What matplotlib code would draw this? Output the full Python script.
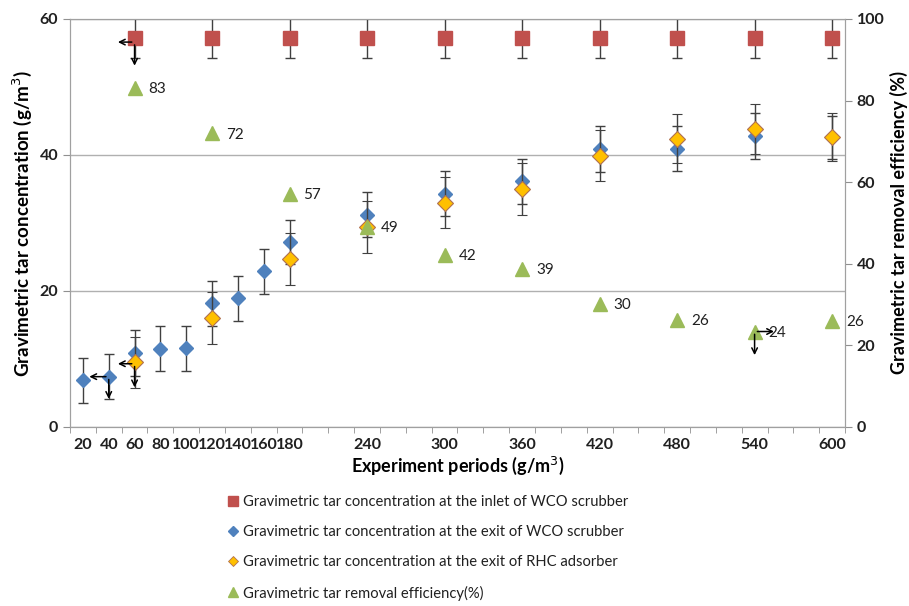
import numpy as np
import matplotlib
matplotlib.use("Agg")
import matplotlib.pyplot as plt
from matplotlib.lines import Line2D
from matplotlib.transforms import ScaledTranslation

plt.rcParams['font.family'] = ['Lato', 'DejaVu Sans']

# experiment periods
x_all = [20, 40, 60, 80, 100, 120, 140, 160, 180, 240, 300, 360, 420, 480, 540, 600]
x_main = [60, 120, 180, 240, 300, 360, 420, 480, 540, 600]

# inlet of WCO scrubber
inlet = [57.2] * 10
inlet_err = [2.9] * 10

# exit of WCO scrubber
wco_exit = [6.9, 7.4, 10.9, 11.5, 11.6, 18.2, 18.9, 22.9, 27.2, 31.2, 34.3, 36.1, 40.9, 40.9, 42.8, 42.6]
wco_err = [3.3, 3.3, 3.4, 3.3, 3.3, 3.3, 3.3, 3.3, 3.3, 3.3, 3.3, 3.3, 3.4, 3.3, 3.4, 3.2]

# exit of RHC adsorber
rhc_exit = [9.5, 16.0, 24.7, 29.4, 33.0, 35.0, 39.9, 42.4, 43.8, 42.6]
rhc_err = [3.8, 3.8, 3.8, 3.8, 3.8, 3.8, 3.7, 3.6, 3.7, 3.5]

# removal efficiency (%)
eff = [83, 72, 57, 49, 42, 39, 30, 26, 24, 26]
eff_y = [83.1, 72.0, 57.2, 49.0, 42.2, 38.8, 30.2, 26.2, 23.4, 26.0]

xtick_vals = [20, 40, 60, 80, 100, 120, 140, 160, 180, 240, 300, 360, 420, 480, 540, 600]

labels = ['Gravimetric tar concentration at the inlet of WCO scrubber',
          'Gravimetric tar concentration at the exit of WCO scrubber',
          'Gravimetric tar concentration at the exit of RHC adsorber',
          'Gravimetric tar removal efficiency(%)']

fig = plt.figure(figsize=(9.09, 6.06), dpi=100)
ax = fig.add_axes([0.077, 0.2954, 0.8526, 0.6733])
ax2 = ax.twinx()

ebar = dict(ecolor='#404040', elinewidth=1.0, capsize=3.5, capthick=1.0, linestyle='none')

ax.errorbar(x_main, inlet, yerr=inlet_err, fmt='s', color='#C0504D', markersize=10, zorder=3, **ebar)
ax.errorbar(x_all, wco_exit, yerr=wco_err, fmt='D', color='#4F81BD', markersize=7, zorder=3, **ebar)
ax.errorbar(x_main, rhc_exit, yerr=rhc_err, fmt='D', color='#FFC000', markeredgecolor='#B07050',
            markeredgewidth=0.8, markersize=8, zorder=4, **ebar)
ax2.plot(x_main, eff_y, '^', color='#9BBB59', markersize=10, linestyle='none', zorder=3)
for xv, yv, lab in zip(x_main, eff_y, eff):
    ax2.annotate(str(lab), (xv, yv), xytext=(10, -1), textcoords='offset points',
                 ha='left', va='center', fontsize=11, color='#202020')

ax.set_xlim(10, 610)
ax.set_ylim(0, 60)
ax2.set_ylim(0, 100)
ax.set_yticks([0, 20, 40, 60])
ax2.set_yticks([0, 20, 40, 60, 80, 100])
ax.set_xticks(xtick_vals)
ax.set_xticklabels([str(v) for v in xtick_vals])
ax.set_xticks(np.arange(10, 611, 20), minor=True)
ax.tick_params(axis='x', which='major', length=0, pad=8)
ax.tick_params(axis='x', which='minor', length=4, color='#909090', direction='out')
ax.tick_params(axis='y', length=5, color='#909090', direction='out')
ax2.tick_params(axis='y', length=5, color='#909090', direction='out')
for a in (ax, ax2):
    for lab in a.get_xticklabels() + a.get_yticklabels():
        lab.set_fontsize(11.5)
        lab.set_fontweight('bold')
        lab.set_color('#202020')
    for s in a.spines.values():
        s.set_color('#A0A0A0')
ax.yaxis.grid(True, color='#B0B0B0', linewidth=1.0)
ax.set_axisbelow(True)

ax.set_xlabel('Experiment periods (g/m$^3$)', fontsize=13, fontweight='bold', labelpad=2)
ax.set_ylabel('Gravimetric tar concentration (g/m$^3$)', fontsize=13.5, fontweight='bold', labelpad=4)
ax2.set_ylabel('Gravimetric tar removal efficiency (%)', fontsize=13, fontweight='bold', labelpad=4)

# stray arrows copied from the original figure
def stray_arrow(a, xv, yv, dx, dy):
    off = a.transData + ScaledTranslation(dx / 72.0, dy / 72.0, fig.dpi_scale_trans)
    a.annotate('', xy=(xv, yv), xycoords=off, xytext=(xv, yv), textcoords='data',
               arrowprops=dict(arrowstyle='->', color='black', lw=1.1, shrinkA=2, shrinkB=0),
               zorder=5)

stray_arrow(ax, x_main[0], inlet[0] - 0.6, -12, 0)
stray_arrow(ax, x_main[0], inlet[0] - 0.6, 0, -17)
stray_arrow(ax, x_all[1], wco_exit[1], -14, 0)
stray_arrow(ax, x_all[1], wco_exit[1], 0, -16)
stray_arrow(ax, x_main[0], rhc_exit[0] - 0.2, -12, 0)
stray_arrow(ax, x_main[0], rhc_exit[0] - 0.2, 0, -17)
stray_arrow(ax2, x_main[8], eff_y[8], 14, 0)
stray_arrow(ax2, x_main[8], eff_y[8], 0, -17)

handles = [Line2D([], [], marker='s', color='#C0504D', linestyle='none', markersize=7),
           Line2D([], [], marker='D', color='#4F81BD', linestyle='none', markersize=5),
           Line2D([], [], marker='D', color='#FFC000', markeredgecolor='#B07050',
                  markeredgewidth=0.6, linestyle='none', markersize=5.5),
           Line2D([], [], marker='^', color='#9BBB59', linestyle='none', markersize=7)]
leg = fig.legend(handles, labels, loc='upper left', bbox_to_anchor=(0.245, 0.193),
                 frameon=False, fontsize=10.6, labelspacing=1.1, handlelength=0.6,
                 handletextpad=0.4, borderaxespad=0)
for t in leg.get_texts():
    t.set_color('#202020')

fig.savefig('out.png', dpi=100)
